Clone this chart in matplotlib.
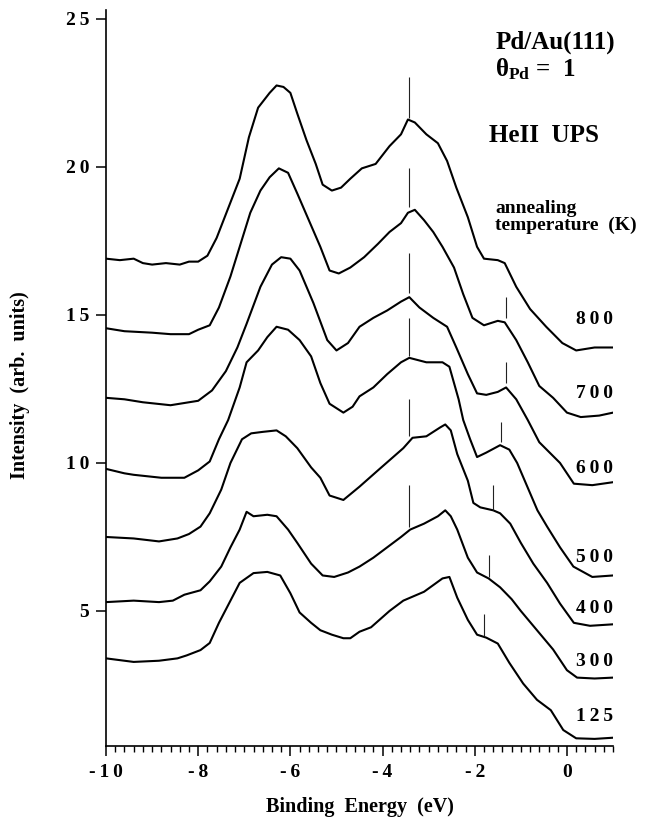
import matplotlib.pyplot as plt
from matplotlib.ticker import MultipleLocator

plt.rcParams['font.family'] = ['Liberation Serif', 'DejaVu Serif']
plt.rcParams['font.weight'] = 'bold'
plt.rcParams['mathtext.fontset'] = 'custom'
plt.rcParams['mathtext.rm'] = 'Liberation Serif'
plt.rcParams['mathtext.it'] = 'Liberation Serif:italic'
plt.rcParams['mathtext.bf'] = 'Liberation Serif:bold'

# HeII UPS spectra, offset vertically, one per annealing temperature
e_800 = [-10.0, -9.7, -9.4, -9.2, -9.0, -8.7, -8.4, -8.2, -8.0, -7.8, -7.6, -7.4, -7.1, -6.9,
         -6.7, -6.45, -6.3, -6.15, -6.0, -5.85, -5.65, -5.45, -5.3, -5.1, -4.9, -4.7, -4.45,
         -4.15, -3.85, -3.6, -3.45, -3.3, -3.05, -2.8, -2.6, -2.4, -2.15, -1.95, -1.8, -1.5,
         -1.35, -1.1, -0.8, -0.45, -0.1, 0.2, 0.6, 1.0]
i_800 = [16.9, 16.85, 16.9, 16.75, 16.7, 16.75, 16.7, 16.8, 16.8, 17.0, 17.6, 18.4, 19.6, 21.0,
         22.0, 22.5, 22.75, 22.7, 22.5, 21.8, 20.9, 20.1, 19.4, 19.2, 19.3, 19.6, 19.95,
         20.1, 20.7, 21.1, 21.6, 21.5, 21.1, 20.8, 20.2, 19.3, 18.3, 17.3, 16.9, 16.85,
         16.75, 15.95, 15.2, 14.6, 14.05, 13.8, 13.9, 13.9]

e_700 = [-10.0, -9.6, -9.0, -8.6, -8.2, -8.0, -7.75, -7.55, -7.3, -7.1, -6.87, -6.65, -6.45,
         -6.25, -6.05, -5.85, -5.6, -5.35, -5.15, -4.95, -4.7, -4.4, -4.1, -3.85, -3.6, -3.45,
         -3.3, -3.1, -2.9, -2.7, -2.45, -2.25, -2.05, -1.8, -1.5, -1.35, -1.1, -0.85, -0.6,
         -0.3, 0.0, 0.3, 0.7, 1.0]
i_700 = [14.55, 14.45, 14.4, 14.35, 14.35, 14.5, 14.65, 15.25, 16.3, 17.3, 18.45, 19.2, 19.65,
         19.95, 19.8, 19.1, 18.2, 17.3, 16.5, 16.4, 16.6, 16.95, 17.4, 17.8, 18.1, 18.45,
         18.55, 18.2, 17.8, 17.3, 16.6, 15.7, 14.9, 14.65, 14.8, 14.75, 14.15, 13.4, 12.6,
         12.2, 11.7, 11.55, 11.6, 11.7]

e_600 = [-10.0, -9.6, -9.2, -8.6, -8.0, -7.7, -7.4, -7.15, -6.95, -6.65, -6.4, -6.2, -6.0,
         -5.8, -5.5, -5.2, -5.0, -4.75, -4.5, -4.2, -3.9, -3.6, -3.42, -3.2, -2.9, -2.6, -2.4,
         -2.15, -1.95, -1.75, -1.5, -1.32, -1.1, -0.85, -0.6, -0.15, 0.15, 0.55, 1.0]
i_600 = [12.2, 12.15, 12.05, 11.95, 12.1, 12.45, 13.1, 13.9, 14.7, 15.95, 16.7, 16.95, 16.9,
         16.5, 15.4, 14.15, 13.8, 14.05, 14.6, 14.9, 15.15, 15.45, 15.6, 15.25, 14.9, 14.6, 13.9,
         13.0, 12.35, 12.3, 12.4, 12.55, 12.15, 11.45, 10.7, 10.0, 9.3, 9.25, 9.35]

e_500 = [-10.0, -9.6, -9.4, -8.8, -8.3, -8.0, -7.75, -7.55, -7.35, -7.1, -6.95, -6.7, -6.5,
         -6.3, -6.05, -5.8, -5.55, -5.35, -5.15, -4.85, -4.65, -4.5, -4.2, -3.9, -3.6, -3.42,
         -3.05, -2.7, -2.55, -2.35, -2.25, -2.1, -1.95, -1.75, -1.45, -1.25, -1.08, -0.86,
         -0.64, -0.43, -0.15, 0.14, 0.55, 1.0]
i_500 = [9.8, 9.65, 9.6, 9.5, 9.5, 9.75, 10.05, 10.8, 11.45, 12.55, 13.4, 13.8, 14.25,
         14.6, 14.5, 14.15, 13.6, 12.7, 12.0, 11.7, 11.9, 12.25, 12.55, 13.0, 13.4, 13.55,
         13.4, 13.4, 13.25, 12.15, 11.45, 10.8, 10.2, 10.35, 10.6, 10.45, 10.0, 9.2,
         8.4, 7.85, 7.15, 6.5, 6.15, 6.2]

e_400 = [-10.0, -9.4, -8.85, -8.45, -8.2, -7.95, -7.75, -7.5, -7.3, -7.05, -6.85, -6.6, -6.3,
         -6.1, -5.85, -5.55, -5.35, -5.15, -4.85, -4.5, -4.1, -3.77, -3.55, -3.35, -3.05,
         -2.75, -2.64, -2.52, -2.38, -2.15, -2.03, -1.88, -1.6, -1.45, -1.23, -1.0, -0.73,
         -0.43, -0.15, 0.15, 0.5, 1.0]
i_400 = [7.5, 7.45, 7.35, 7.45, 7.6, 7.85, 8.3, 9.1, 10.0, 10.8, 11.0, 11.05, 11.1,
         10.9, 10.5, 9.85, 9.5, 8.9, 8.75, 9.2, 9.75, 10.2, 10.5, 10.85, 10.9,
         11.2, 11.3, 11.1, 10.3, 9.4, 8.65, 8.5, 8.4, 8.3, 7.95, 7.3, 6.6,
         5.95, 5.25, 4.6, 4.5, 4.55]

e_300 = [-10.0, -9.4, -8.85, -8.55, -8.3, -7.95, -7.75, -7.5, -7.3, -7.1, -6.95, -6.8, -6.5,
         -6.3, -6.05, -5.85, -5.55, -5.3, -5.05, -4.75, -4.5, -4.2, -3.9, -3.6, -3.4, -3.1,
         -2.8, -2.64, -2.52, -2.38, -2.15, -1.95, -1.7, -1.45, -1.2, -1.0, -0.65, -0.3, 0.0,
         0.22, 0.6, 1.0]
i_300 = [5.3, 5.35, 5.3, 5.35, 5.55, 5.7, 6.0, 6.5, 7.15, 7.75, 8.35, 8.2, 8.25,
         8.2, 7.75, 7.3, 6.6, 6.2, 6.15, 6.3, 6.5, 6.8, 7.15, 7.5, 7.75, 7.95,
         8.2, 8.4, 8.2, 7.75, 6.8, 6.3, 6.1, 5.8, 5.4, 5.0, 4.35, 3.7, 3.0,
         2.75, 2.72, 2.75]

e_125 = [-10.0, -9.4, -8.85, -8.45, -8.25, -7.95, -7.75, -7.55, -7.3, -7.1, -6.8, -6.5, -6.22,
         -6.0, -5.8, -5.55, -5.35, -5.1, -4.85, -4.7, -4.5, -4.25, -3.85, -3.55, -3.1, -2.7,
         -2.55, -2.38, -2.15, -1.95, -1.75, -1.5, -1.25, -0.95, -0.65, -0.35, -0.08, 0.2,
         0.6, 1.0]
i_125 = [3.4, 3.28, 3.32, 3.4, 3.5, 3.68, 3.92, 4.6, 5.35, 5.95, 6.28, 6.32, 6.2,
         5.6, 4.95, 4.6, 4.35, 4.2, 4.08, 4.08, 4.3, 4.45, 5.0, 5.35, 5.65, 6.1,
         6.15, 5.45, 4.7, 4.2, 4.1, 3.9, 3.25, 2.55, 2.0, 1.65, 0.98, 0.7,
         0.68, 0.72]

temps = ['800', '700', '600', '500', '400', '300', '125']
label_y = [14.83, 12.36, 9.8, 6.82, 5.1, 3.28, 1.42]

# markers at the -3.4 eV peak (800 K to 300 K)
peak_e = -3.42
peak_lo = [21.65, 18.65, 15.75, 13.6, 10.9, 7.85]
peak_hi = [23.05, 19.95, 17.1, 14.9, 12.15, 9.25]

# markers at the shoulder near -1.5 eV (700 K to 125 K)
knee_e = [-1.32, -1.32, -1.43, -1.61, -1.70, -1.79]
knee_lo = [14.9, 12.7, 10.7, 8.4, 6.15, 4.15]
knee_hi = [15.6, 13.4, 11.4, 9.25, 6.9, 4.9]

x_ticks = [-10, -8, -6, -4, -2, 0]
y_ticks = [5, 10, 15, 20, 25]

energies = [e_800, e_700, e_600, e_500, e_400, e_300, e_125]
intensities = [i_800, i_700, i_600, i_500, i_400, i_300, i_125]


def spaced(s):
    # the typeset numbers are letter-spaced
    return '\u2009'.join(s)


fig = plt.figure(figsize=(6.56, 8.17), dpi=100)
ax = fig.add_axes([0.1616, 0.0869, 0.7729, 0.9009])

for e, i in zip(energies, intensities):
    ax.plot(e, i, color='black', lw=1.5)

ax.vlines([peak_e] * len(peak_lo), peak_lo, peak_hi, color='#222222', lw=0.8)
ax.vlines(knee_e, knee_lo, knee_hi, color='#222222', lw=0.8)

for t, y in zip(temps, label_y):
    ax.text(1.0, y, spaced(t), ha='right', va='center', fontsize=14, fontweight='bold')

ax.text(-0.25, 24.2, 'Pd/Au(111)', ha='center', va='center', fontsize=18, fontweight='bold')
ax.text(-1.55, 23.3, r'θ$_{\mathbf{Pd}}$ =  1', ha='left', va='center', fontsize=18,
        fontweight='bold')
ax.text(-0.5, 21.05, 'HeII  UPS', ha='center', va='center', fontsize=18, fontweight='bold')
ax.text(-1.55, 18.3, 'annealing\ntemperature  (K)', ha='left', va='center', fontsize=14,
        fontweight='bold', linespacing=0.95)

ax.set_xlim(-10, 1)
ax.set_ylim(0.44, 25.3)
ax.set_xticks(x_ticks)
ax.set_xticklabels([spaced(str(v)) for v in x_ticks])
ax.xaxis.set_minor_locator(MultipleLocator(0.2))
ax.set_yticks(y_ticks)
ax.set_yticklabels([spaced(str(v)) for v in y_ticks])

for side in ['top', 'right']:
    ax.spines[side].set_visible(False)
for side in ['left', 'bottom']:
    ax.spines[side].set_linewidth(1.2)

ax.tick_params(axis='both', which='major', length=7, width=1.1, labelsize=14, direction='out')
ax.tick_params(axis='x', which='minor', length=4.5, width=1.0, direction='out')
ax.tick_params(axis='x', which='major', pad=6)
ax.tick_params(axis='y', which='major', pad=5)

ax.set_xlabel('Binding  Energy  (eV)', fontsize=14.5, fontweight='bold')
ax.set_ylabel('Intensity  (arb.  units)', fontsize=14.5, fontweight='bold')
ax.xaxis.set_label_coords(0.501, -0.069)
ax.yaxis.set_label_coords(-0.15, 0.49)

fig.savefig('out.png', dpi=100)
